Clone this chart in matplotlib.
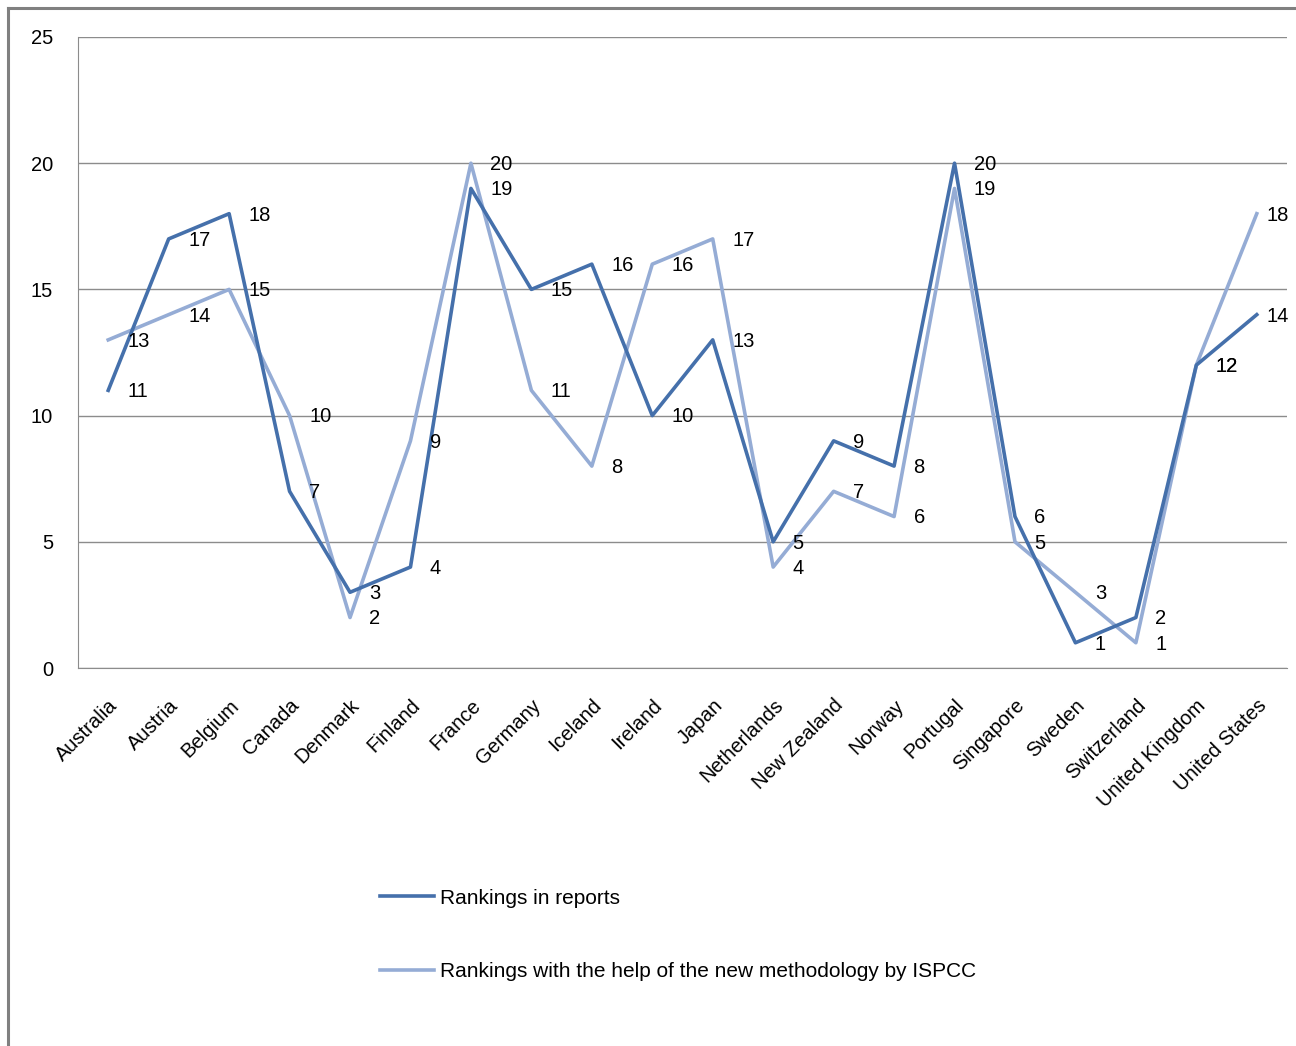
import matplotlib.pyplot as plt

plt.rcParams['font.family'] = ['Liberation Sans', 'DejaVu Sans']

countries = ["Australia", "Austria", "Belgium", "Canada", "Denmark", "Finland",
             "France", "Germany", "Iceland", "Ireland", "Japan", "Netherlands",
             "New Zealand", "Norway", "Portugal", "Singapore", "Sweden",
             "Switzerland", "United Kingdom", "United States"]
reports = [11, 17, 18, 7, 3, 4, 19, 15, 16, 10, 13, 5, 9, 8, 20, 6, 1, 2, 12, 14]
ispcc = [13, 14, 15, 10, 2, 9, 20, 11, 8, 16, 17, 4, 7, 6, 19, 5, 3, 1, 12, 18]
yticks = [0, 5, 10, 15, 20, 25]

dark = '#4570AB'
light = '#95ACD5'

fig = plt.figure(figsize=(12.96, 10.46), dpi=100)
ax = fig.add_axes([78/1296, 1 - 668/1046, (1287-78)/1296, (668-37)/1046])

x = range(len(countries))
ax.plot(x, reports, color=dark, lw=2.6, label="Rankings in reports", zorder=3)
ax.plot(x, ispcc, color=light, lw=2.6, label="Rankings with the help of the new methodology by ISPCC", zorder=2)

# data labels to the right of each point (last ones pulled in to fit)
for i in x:
    dx = 7 if i == len(countries) - 1 else 14
    ax.annotate(str(reports[i]), (i, reports[i]), xytext=(dx, -1), textcoords='offset points',
                ha='left', va='center', fontsize=14.5)
    ax.annotate(str(ispcc[i]), (i, ispcc[i]), xytext=(dx, -1), textcoords='offset points',
                ha='left', va='center', fontsize=14.5)

ax.set_xlim(-0.5, len(countries) - 0.5)
ax.set_ylim(0, 25)
ax.set_yticks(yticks)
ax.set_yticklabels([str(v) for v in yticks], fontsize=14.5)
ax.set_xticks(list(x))
ax.set_xticklabels(countries, rotation=45, ha='right', rotation_mode='anchor', fontsize=14.5)
ax.tick_params(length=0)
ax.tick_params(axis='y', pad=18)
ax.tick_params(axis='x', pad=20)
ax.grid(axis='y', color='#8c8c8c', lw=1)
ax.set_axisbelow(True)
for s in ['top', 'right']:
    ax.spines[s].set_visible(False)
for s in ['left', 'bottom']:
    ax.spines[s].set_color('#8c8c8c')

fig.legend(loc='upper left', bbox_to_anchor=(361/1296, 1 - 870/1046), frameon=False,
           fontsize=15, handlelength=2.6, handletextpad=0.3, labelspacing=2.6)

# outer border (top and left)
fig.add_artist(plt.Line2D([8/1296, 1], [1 - 8/1046, 1 - 8/1046], color='#808080', lw=2.2))
fig.add_artist(plt.Line2D([8/1296, 8/1296], [0, 1 - 8/1046], color='#808080', lw=2.2))

fig.savefig('out.png', dpi=100, facecolor='white')
